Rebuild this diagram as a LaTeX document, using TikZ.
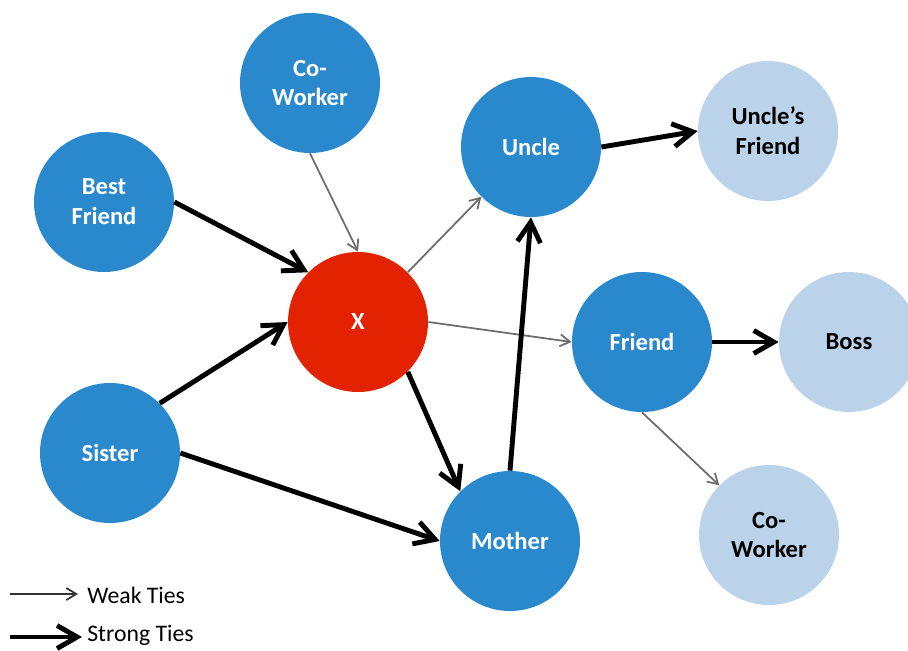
\documentclass[tikz,border=0pt]{standalone}
\usepackage{fontspec}
\setmainfont{Carlito}
\usetikzlibrary{arrows.meta}
\definecolor{tieblue}{RGB}{42,136,204}
\definecolor{egored}{RGB}{226,34,0}
\definecolor{paleblue}{RGB}{186,211,234}

\begin{document}
\begin{tikzpicture}[
      x=0.2mm, y=-0.2mm,
      person/.style={circle,minimum size=28mm,inner sep=0pt,align=center,font=\bfseries\fontsize{14}{17}\selectfont},
      inner/.style={person,fill=tieblue,text=white},
      ego/.style={person,fill=egored,text=white},
      outer/.style={person,fill=paleblue,text=black},
      weak/.style={-{Straight Barb[length=2mm,width=2.4mm]},line width=1pt,gray!85!black},
      strong/.style={-{Straight Barb[length=4mm,width=4.6mm]},line width=2.8pt,black},
    ]
    \clip (0,0) rectangle (908,650);
    \useasboundingbox (0,0) rectangle (908,650);

    \node[inner] (cw)  at (310,83)  {Co-\\Worker};
    \node[inner] (bf)  at (104,202) {Best\\Friend};
    \node[ego]   (x)   at (358,322) {X};
    \node[inner] (sis) at (110,453) {Sister};
    \node[inner] (unc) at (531,147) {Uncle};
    \node[outer] (uf)  at (768,131) {Uncle’s\\Friend};
    \node[inner] (fr)  at (642,342) {Friend};
    \node[outer] (boss) at (849,342) {Boss};
    \node[outer] (cw2) at (769,535) {Co-\\Worker};
    \node[inner] (mom) at (510,541) {Mother};

    \draw[weak]   (cw.south) -- (x.north);
    \draw[strong] (bf.east) -- (x.north west);
    \draw[strong] (sis.north east) -- (x.west);
    \draw[strong] (sis.east) -- (mom.west);
    \draw[weak]   (x.north east) -- (unc.south west);
    \draw[weak]   (x.east) -- (fr.west);
    \draw[strong] (x.south east) -- (mom.north west);
    \draw[strong] (mom.north) -- (unc.south);
    \draw[strong] (unc.east) -- (uf.west);
    \draw[strong] (fr.east) -- (boss.west);
    \draw[weak]   (fr.south) -- (cw2.north west);

    % legend
    \coordinate (w1) at (10,594);
    \coordinate (w2) at (78,594);
    \coordinate (s1) at (10,637);
    \coordinate (s2) at (82,637);
    \draw[weak,black!80] (w1) -- (w2);
    \draw[strong] (s1) -- (s2);
    \node[anchor=west,font=\fontsize{13.5}{16}\selectfont,inner sep=0pt] (wk) at (87,595) {Weak Ties};
    \node[anchor=west,font=\fontsize{13.5}{16}\selectfont,inner sep=0pt] (st) at (87,635) {Strong Ties};
  \end{tikzpicture}
\end{document}
